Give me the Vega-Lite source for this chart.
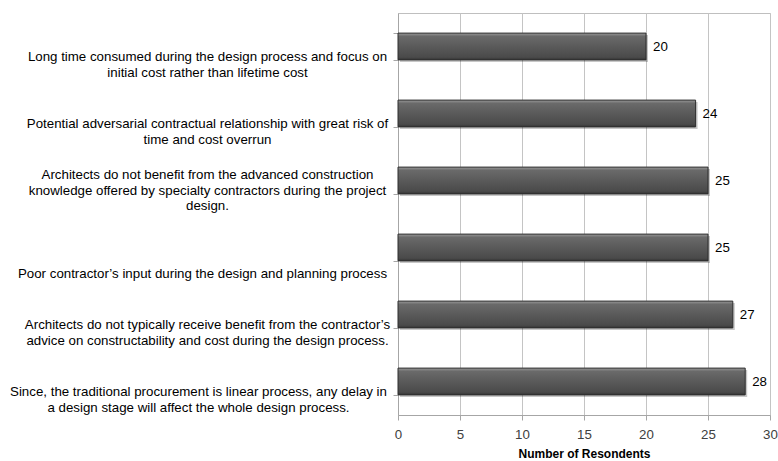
{
  "$schema": "https://vega.github.io/schema/vega-lite/v6.json",
  "autosize": {"type": "none"},
  "width": 372,
  "height": 402,
  "padding": {"left": 398, "top": 13, "right": 8, "bottom": 46},
  "background": "white",
  "config": {
    "view": {"stroke": "#bfbfbf", "strokeWidth": 1},
    "font": "Liberation Sans"
  },
  "data": {
    "values": [
      {"factor": "Long time consumed during the design process and focus on\ninitial cost rather than lifetime cost", "respondents": 20},
      {"factor": "Potential adversarial contractual relationship with great risk of\ntime and cost overrun", "respondents": 24},
      {"factor": "Architects do not benefit from the advanced construction\nknowledge offered by specialty contractors  during the project\ndesign.", "respondents": 25},
      {"factor": "Poor contractor’s input during the design and planning process", "respondents": 25},
      {"factor": "Architects do not typically receive benefit from the contractor’s\nadvice on constructability and cost during the design process.", "respondents": 27},
      {"factor": "Since, the traditional procurement is linear process, any delay in\na design stage  will affect the whole design process.", "respondents": 28}
    ]
  },
  "encoding": {
    "y": {
      "field": "factor",
      "type": "nominal",
      "sort": null,
      "scale": {"paddingInner": 0.6, "paddingOuter": 0.3},
      "axis": {
        "title": null,
        "labelExpr": "split((indexof(datum.label, 'Poor') == 0 ? '\\u200b\\n' : '') + datum.label, '\\n')",
        "labelAlign": "center",
        "labelBaseline": {"condition": [
          {"test": "indexof(datum.label, 'Architects do not benefit') == 0", "value": "line-bottom"}
        ], "value": "line-top"},
        "labelPadding": {"condition": [
          {"test": "indexof(datum.label, 'Since') == 0", "value": 195},
          {"test": "indexof(datum.label, 'Poor') == 0", "value": 191}
        ], "value": 186},
        "labelOffset": 2,
        "labelLimit": 0,
        "labelFontSize": 13.3,
        "labelLineHeight": 15.5,
        "labelColor": "#000000",
        "tickBand": "extent",
        "tickSize": 5,
        "tickColor": "#a6a6a6",
        "domainColor": "#a6a6a6",
        "grid": false
      }
    },
    "x": {
      "field": "respondents",
      "type": "quantitative",
      "scale": {"domain": [0, 30], "nice": false},
      "axis": {
        "title": "Number of Resondents",
        "titleFontSize": 12,
        "titleFontWeight": "bold",
        "titleColor": "#000000",
        "titlePadding": 8,
        "values": [0, 5, 10, 15, 20, 25, 30],
        "labelFontSize": 13.3,
        "labelColor": "#404040",
        "labelPadding": 7,
        "labelFlush": false,
        "tickSize": 5,
        "tickColor": "#a6a6a6",
        "domainColor": "#a6a6a6",
        "grid": true,
        "gridColor": "#c4c4c4"
      }
    }
  },
  "layer": [
    {
      "mark": {"type": "bar", "color": "#000000", "opacity": 0.22, "xOffset": 2, "yOffset": 2}
    },
    {
      "mark": {
        "type": "bar",
        "stroke": "#2e2e2e",
        "strokeWidth": 1,
        "color": {
          "gradient": "linear",
          "x1": 0, "y1": 0, "x2": 0, "y2": 1,
          "stops": [
            {"offset": 0, "color": "#9a9a9a"},
            {"offset": 0.12, "color": "#6a6a6a"},
            {"offset": 0.5, "color": "#5a5a5a"},
            {"offset": 0.9, "color": "#4a4a4a"},
            {"offset": 1, "color": "#333333"}
          ]
        }
      }
    },
    {
      "mark": {"type": "text", "align": "left", "baseline": "middle", "dx": 7, "fontSize": 13.3, "color": "#000000"},
      "encoding": {"text": {"field": "respondents", "type": "quantitative"}}
    }
  ]
}
